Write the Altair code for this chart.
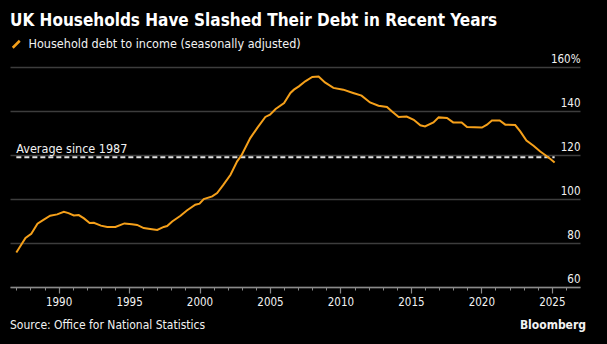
import altair as alt
import pandas as pd

# ---- data ----
years = [1987.0, 1987.65, 1988.06, 1988.5, 1988.95, 1989.4, 1989.9, 1990.37, 1990.7, 1991.08,
         1991.43, 1991.8, 1992.2, 1992.5, 1993.0, 1993.45, 1994.03, 1994.67, 1995.2, 1995.57,
         1996.04, 1996.5, 1997.0, 1997.46, 1997.7, 1998.06, 1998.65, 1999.1, 1999.7, 2000.0,
         2000.3, 2000.9, 2001.25, 2001.7, 2002.2, 2002.67, 2003.0, 2003.6, 2004.1, 2004.67,
         2005.0, 2005.4, 2006.0, 2006.45, 2006.7, 2007.05, 2007.5, 2008.0, 2008.45, 2008.9,
         2009.5, 2010.2, 2010.9, 2011.5, 2012.1, 2012.7, 2013.3, 2013.66, 2014.13, 2014.7,
         2015.2, 2015.67, 2016.0, 2016.6, 2016.97, 2017.56, 2018.0, 2018.6, 2018.98, 2020.04,
         2020.4, 2020.75, 2021.3, 2021.7, 2022.4, 2022.76, 2023.2, 2023.7, 2024.18, 2024.5,
         2024.9, 2025.2]
debt_ratio = [75.7, 82.3, 84.2, 88.8, 90.6, 92.4, 93.0, 94.2, 93.6, 92.5,
              92.7, 91.2, 89.1, 89.2, 87.9, 87.3, 87.3, 88.9, 88.5, 88.2,
              86.8, 86.4, 85.9, 87.3, 87.7, 89.8, 92.4, 94.8, 97.4, 97.9,
              100.0, 101.2, 102.7, 106.5, 111.0, 117.1, 120.1, 127.7, 132.3, 137.3,
              138.3, 140.9, 143.6, 148.2, 149.7, 151.2, 153.5, 155.5, 155.7, 153.0,
              150.5, 149.7, 148.2, 147.0, 143.9, 142.4, 141.8, 139.8, 137.3, 137.5,
              136.0, 133.5, 133.0, 134.8, 137.1, 136.8, 134.8, 134.8, 132.7, 132.5,
              133.8, 135.7, 135.7, 133.8, 133.6, 130.7, 126.6, 124.2, 121.6, 120.1,
              118.2, 116.6]
series_name = "Household debt to income (seasonally adjusted)"
average_since_1987 = 119.0
average_label = "Average since 1987"
major_ticks = [1990, 1995, 2000, 2005, 2010, 2015, 2020, 2025]
minor_ticks = list(range(1987, 2027))
y_ticks = [60, 80, 100, 120, 140, 160]
title_text = "UK Households Have Slashed Their Debt in Recent Years"
source_text = "Source: Office for National Statistics"
brand_text = "Bloomberg"

FONT = "DejaVu Sans Condensed, DejaVu Sans"
ORANGE = "#f5a01a"
AXIS_GRAY = "#8a8a8a"
W, H = 570, 220

df = pd.DataFrame({"year": years, "value": debt_ratio, "series": series_name})
avg_df = pd.DataFrame({"x": [years[0]], "x2": [years[-1]], "y": [average_since_1987],
                       "label": [average_label]})
foot_df = pd.DataFrame({"t": [source_text]})
brand_df = pd.DataFrame({"t": [brand_text]})

x_scale = alt.Scale(domain=[1986.55, 2027.0], nice=False, zero=False)
y_scale = alt.Scale(domain=[60, 160], nice=False, zero=False)

x_axis_major = alt.Axis(
    orient="bottom", values=major_ticks, format="d", title=None,
    tickSize=6, tickColor=AXIS_GRAY, domainColor=AXIS_GRAY, domainWidth=1.5, tickWidth=1.2,
    labelColor="#f2f2f2", labelFontSize=11.5, labelFont=FONT, labelPadding=3,
    labelOverlap=False, grid=False, labelFlush=False,
)
x_axis_minor = alt.Axis(
    orient="bottom", values=minor_ticks, title=None, labels=False, domain=False,
    tickSize=3, tickColor=AXIS_GRAY, tickWidth=1, grid=False,
)
y_axis = alt.Axis(
    orient="right", values=y_ticks, title=None, domain=False, ticks=False, tickSize=0,
    labelAlign="right", labelBaseline="alphabetic", labelOffset=-5, labelPadding=0,
    labelExpr="datum.value === 160 ? '160%' : datum.label",
    labelColor="#f2f2f2", labelFontSize=11.5, labelFont=FONT,
    grid=True, gridColor="#3d3d3d", gridWidth=1.5,
)

avg_rule = alt.Chart(avg_df).mark_rule(color="#e0e0e0", strokeWidth=2, strokeDash=[5, 3]).encode(
    x=alt.X("x:Q", scale=x_scale, axis=x_axis_minor), x2="x2:Q",
    y=alt.Y("y:Q", scale=y_scale, axis=y_axis)
)

line = alt.Chart(df).mark_line(strokeWidth=2, clip=False).encode(
    x=alt.X("year:Q", scale=x_scale, axis=x_axis_major),
    y=alt.Y("value:Q", scale=y_scale, axis=y_axis),
    color=alt.Color("series:N", scale=alt.Scale(domain=[series_name], range=[ORANGE]),
                    legend=alt.Legend(
                        title=None, orient="none", legendX=0, legendY=-29,
                        symbolType="M-1,1L1,-1", symbolSize=49, symbolStrokeWidth=2.5,
                        labelColor="#f2f2f2", labelFontSize=12.5, labelFont=FONT,
                        labelOffset=6, labelLimit=500, padding=0,
                    )),
)

avg_text = alt.Chart(avg_df).mark_text(
    align="left", baseline="alphabetic", dy=-4, color="#f2f2f2", fontSize=12.5, font=FONT
).encode(x=alt.X("x:Q", scale=x_scale, axis=None), y=alt.Y("y:Q", scale=y_scale, axis=y_axis),
         text="label:N")

source = alt.Chart(foot_df).mark_text(
    align="left", baseline="middle", color="#f2f2f2", fontSize=12, font=FONT
).encode(x=alt.value(0), y=alt.value(258), text="t:N")
brand = alt.Chart(brand_df).mark_text(
    align="right", baseline="middle", color="#f2f2f2", fontSize=12, font=FONT, fontWeight="bold"
).encode(x=alt.value(576), y=alt.value(258), text="t:N")

chart = alt.layer(avg_rule, line, avg_text, source, brand).resolve_axis(
    x="independent"
).properties(
    width=W, height=H,
    autosize=alt.AutoSizeParams(type="none"),
    padding={"left": 10, "top": 67, "right": 27, "bottom": 57},
    title=alt.TitleParams(title_text, anchor="start", frame="group", fontSize=17,
                          font=FONT, fontWeight="bold", color="#ffffff", offset=8),
    background="black",
).configure_view(stroke=None)

chart.save("out.html", embed_options={"renderer": "svg", "actions": False})
